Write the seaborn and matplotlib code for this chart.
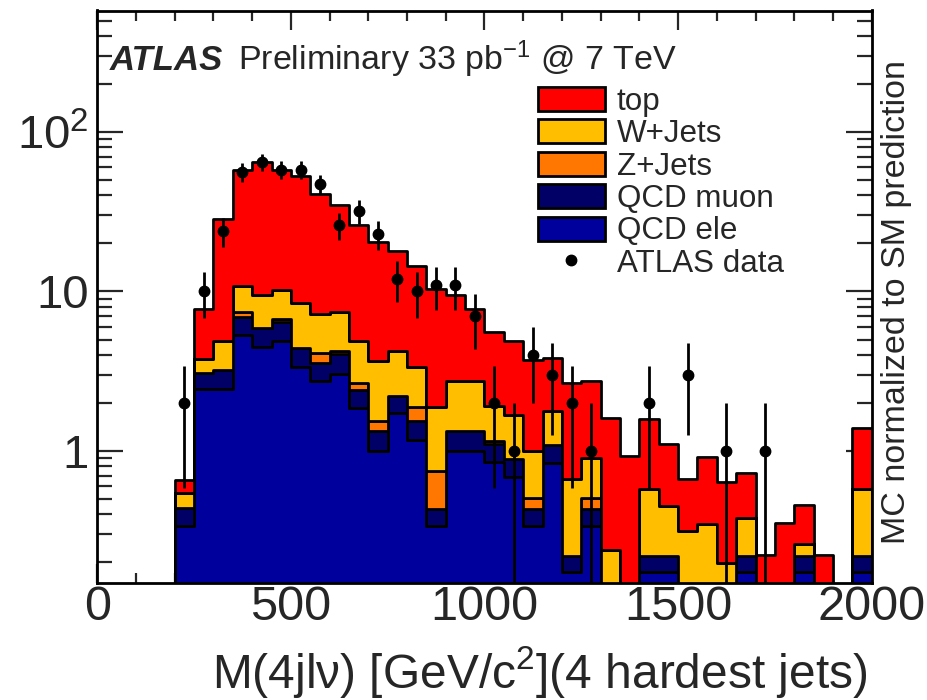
import numpy as np
import pandas as pd
import matplotlib
matplotlib.use("Agg")
import matplotlib.pyplot as plt
import seaborn as sns
from matplotlib.patches import Patch
from matplotlib.lines import Line2D
from matplotlib.ticker import (FixedLocator, FixedFormatter, MultipleLocator,
                               LogLocator, NullFormatter)

# Binning: 50 GeV bins over 0-2000 GeV; MC/data content starts at 200 GeV
bin_low = 200
bin_width = 50
edges = list(range(0, 2001, bin_width))

# Expected events per bin (200, 250, ..., 1950 GeV bins)
top_mc = [0.113, 3.97, 23.5, 46.9, 55.75, 47.3, 44.83, 33.8, 27.67, 21.33,
          16.72, 13.74, 11.03, 8.47, 6.82, 5.04, 3.69, 3.23, 2.74, 2.04,
          2.0, 1.82, 1.36, 0.928, 1.02, 0.647, 0.348, 0.572, 0.437, 0.345,
          0.222, 0.352, 0.196, 0.222, 0.0, 0.82]
wjets_mc = [0.11, 0.70, 1.70, 3.5, 3.65, 3.5, 4.02, 3.06, 3.17, 2.19,
            2.14, 2.06, 1.49, 1.132, 1.39, 1.39, 0.75, 0.785, 0.495, 0.705,
            0.443, 0.405, 0.24, 0.0, 0.357, 0.233, 0.315, 0.348, 0.198, 0.16,
            0.0, 0.0, 0.04, 0.0, 0.0, 0.36]
zjets_mc = [0.0, 0.0, 0.0, 0.5, 0.0, 0.3, 0.0, 0.56, 0.2, 0.26,
            0.2, 0.0, 0.34, 0.314, 0.0, 0.0, 0.05, 0.0, 0.07, 0.0,
            0.0, 0.07, 0.0, 0.0, 0.0, 0.0, 0.0, 0.0, 0.0, 0.0,
            0.0, 0.0, 0.0, 0.0, 0.0, 0.0]
qcd_muon_mc = [0.10, 0.67, 0.77, 1.57, 1.4, 1.53, 1.09, 0.84, 1.02, 0.56,
               0.34, 0.47, 0.36, 0.096, 0.34, 0.34, 0.26, 0.195, 0.097, 0.242,
               0.047, 0.097, 0.0, 0.0, 0.047, 0.047, 0.0, 0.0, 0.0, 0.047,
               0.0, 0.0, 0.047, 0.0, 0.0, 0.047]
qcd_ele_mc = [0.338, 2.43, 2.43, 5.33, 4.5, 4.87, 3.36, 2.74, 3.04, 1.86,
              1.0, 1.73, 1.18, 0.338, 1.0, 1.0, 0.85, 0.69, 0.338, 0.843,
              0.173, 0.338, 0.0, 0.0, 0.173, 0.173, 0.0, 0.0, 0.0, 0.173,
              0.0, 0.0, 0.173, 0.0, 0.0, 0.173]

# Observed events per bin
data_counts = [2, 10, 24, 56, 65, 58, 58, 47, 26, 32,
               23, 12, 10, 11, 11, 7, 2, 1, 4, 3,
               2, 1, 0, 0, 2, 0, 3, 0, 1, 0,
               1, 0, 0, 0, 0, 0]

processes = ["top", "W+Jets", "Z+Jets", "QCD muon", "QCD ele"]
colors = {"top": "#ff0000", "W+Jets": "#ffbf00", "Z+Jets": "#ff7700",
          "QCD muon": "#000066", "QCD ele": "#00009c"}

centers = bin_low + bin_width * (np.arange(len(top_mc)) + 0.5)
frames = []
for name, vals in zip(processes, [top_mc, wjets_mc, zjets_mc, qcd_muon_mc, qcd_ele_mc]):
    frames.append(pd.DataFrame({"mass": centers, "weight": vals, "process": name}))
mc = pd.concat(frames, ignore_index=True)

sns.set_style("ticks")
plt.rcParams["font.family"] = ["Liberation Sans", "DejaVu Sans"]
plt.rcParams["mathtext.fontset"] = "custom"
plt.rcParams["mathtext.rm"] = "Liberation Sans"
plt.rcParams["mathtext.it"] = "Liberation Sans:italic"
plt.rcParams["mathtext.bf"] = "Liberation Sans:bold"

fig = plt.figure(figsize=(9.27, 7.0), dpi=100)
ax = fig.add_axes([0.10496, 0.16671, 0.83538, 0.81829])

# Stacked MC expectation (first hue level ends up on top of the stack)
sns.histplot(data=mc, x="mass", weights="weight", hue="process",
             hue_order=processes, multiple="stack", bins=edges,
             element="step", fill=True, palette=colors, alpha=1,
             edgecolor="black", linewidth=2, legend=False, ax=ax)
ax.set_yscale("log")

# Data with Poisson errors
counts = np.array(data_counts, dtype=float)
sel = counts > 0
ax.errorbar(centers[sel], counts[sel], yerr=np.sqrt(counts[sel]), fmt="o",
            color="black", ms=7.5, elinewidth=2, capsize=0, zorder=5)

ax.set_xlim(0, 2000)
ax.set_ylim(0.148, 578)
ax.set_xlabel("")
ax.set_ylabel("")

ax.xaxis.set_major_locator(MultipleLocator(500))
ax.xaxis.set_minor_locator(MultipleLocator(100))
ax.yaxis.set_major_locator(FixedLocator([1, 10, 100]))
ax.yaxis.set_major_formatter(FixedFormatter(["1", "10", "10$^{2}$"]))
ax.yaxis.set_minor_locator(LogLocator(base=10, subs=np.arange(2, 10), numticks=20))
ax.yaxis.set_minor_formatter(NullFormatter())
ax.tick_params(which="both", direction="in", top=True, right=True, width=1.6)
ax.tick_params(axis="x", which="major", length=13.5, labelsize=35, pad=1)
ax.tick_params(axis="x", which="minor", length=7)
ax.tick_params(axis="y", which="major", length=19, labelsize=34, pad=6)
ax.tick_params(axis="y", which="minor", length=10.5)
for s in ax.spines.values():
    s.set_visible(True)
    s.set_linewidth(2)
    s.set_color("black")

# Legend
handles = [Patch(facecolor=colors[p], edgecolor="black", linewidth=2) for p in processes]
handles.append(Line2D([], [], linestyle="none", marker="o", color="black", markersize=7.5))
labels = processes + ["ATLAS data"]
ax.legend(handles, labels, loc="upper left", bbox_to_anchor=(538 / 927, 1 - 87 / 700),
          bbox_transform=fig.transFigure, frameon=False, borderpad=0,
          borderaxespad=0, handlelength=2.13, handleheight=0.8,
          handletextpad=0.38, labelspacing=0.075, fontsize=22.6)

# Texts
fig.text(110 / 927, 1 - 70 / 700, "ATLAS", fontsize=25, fontweight="bold",
         style="italic", va="baseline", ha="left")
fig.text(238 / 927, 1 - 70 / 700, "Preliminary 33 pb$^{-1}$ @ 7 TeV",
         fontsize=24.5, va="baseline", ha="left")
fig.text(867 / 927, 1 - 688 / 700, "M(4jlν) [GeV/c$^{2}$](4 hardest jets)",
         fontsize=34.5, ha="right", va="baseline")
fig.text(896.5 / 927, 1 - 301.5 / 700, "MC normalized to SM prediction",
         rotation=90, fontsize=24.5, ha="center", va="center")

fig.savefig("out.png", dpi=100)
